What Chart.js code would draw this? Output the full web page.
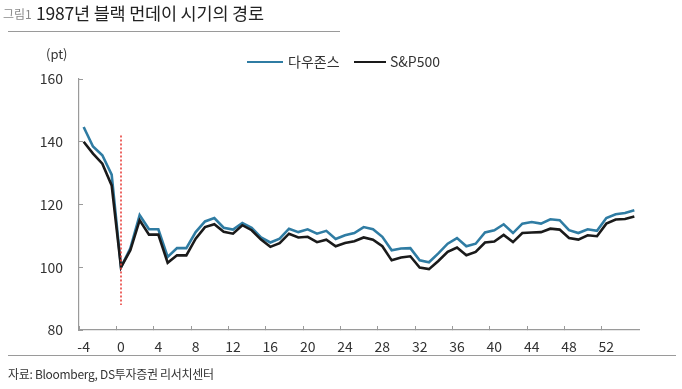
<!DOCTYPE html>
<html>
<head>
<meta charset="utf-8">
<script src="https://cdn.jsdelivr.net/npm/chart.js"></script>
<style>
  html, body { margin: 0; padding: 0; background: #fff; }
  body { width: 682px; height: 389px; position: relative; overflow: hidden;
         font-family: "Noto Sans CJK KR", "Noto Sans", sans-serif; }
  #wrap { position: absolute; left: 0; top: 0; width: 682px; height: 389px; }
  .abs { position: absolute; white-space: nowrap; }
  #fig { left: 3px; top: 5px; font-size: 12px; color: #8a8a8a; }
  #title { left: 36px; top: 0px; font-size: 17.5px; color: #222; letter-spacing: -0.2px; }
  #rule1 { left: 8px; top: 31px; width: 332px; height: 0; border-top: 1.5px solid #9a9a9a; }
  #rule2 { left: 8px; top: 355px; width: 668px; height: 0; border-top: 1.5px solid #9a9a9a; }
  #src { left: 8px; top: 365px; font-size: 12px; color: #333; letter-spacing: -0.3px; }
  #unit { left: 46px; top: 44px; font-size: 13px; color: #333; }
  .lg { top: 51px; font-size: 14px; color: #333; }
  .sw { position: absolute; height: 0; top: 61px; }
</style>
</head>
<body>
<div id="wrap"><canvas id="c" width="682" height="389"></canvas></div>
<div class="abs" id="fig">그림1</div>
<div class="abs" id="title">1987년 블랙 먼데이 시기의 경로</div>
<div class="abs" id="rule1"></div>
<div class="abs" id="unit">(pt)</div>
<div class="sw" style="left:247px;width:36px;border-top:2.5px solid #2f7ca3;"></div>
<div class="abs lg" style="left:288px;">다우존스</div>
<div class="sw" style="left:354px;width:32px;border-top:2.5px solid #1a1a1a;"></div>
<div class="abs lg" style="left:390px;">S&amp;P500</div>
<div class="abs" id="rule2"></div>
<div class="abs" id="src">자료: Bloomberg, DS투자증권 리서치센터</div>
<script>
// Days relative to Black Monday (1987-10-19)
const categories = ['-4','-3','-2','-1','0','1','2','3','4','5','6','7','8','9','10','11','12','13','14','15',
  '16','17','18','19','20','21','22','23','24','25','26','27','28','29','30','31','32','33','34','35',
  '36','37','38','39','40','41','42','43','44','45','46','47','48','49','50','51','52','53','54','55'];

const dowValues = [144.7, 138.5, 135.7, 129.5, 100.0, 106.0, 116.6, 112.1, 112.1, 103.3,
  106.1, 106.1, 111.2, 114.6, 115.7, 112.6, 112.0, 114.1, 112.6, 109.5,
  107.9, 109.1, 112.3, 111.2, 112.1, 110.7, 111.6, 109.0, 110.2, 110.9,
  112.8, 112.1, 109.7, 105.4, 106.0, 106.1, 102.2, 101.6, 104.4, 107.5,
  109.3, 106.7, 107.5, 111.1, 111.8, 113.7, 110.9, 113.9, 114.4, 113.9,
  115.3, 115.0, 111.8, 110.9, 112.1, 111.6, 115.7, 116.9, 117.3, 118.2];

const spValues = [140.0, 136.2, 133.0, 126.1, 100.0, 105.4, 115.0, 110.4, 110.4, 101.4,
  103.8, 103.8, 109.1, 112.8, 113.7, 111.3, 110.7, 113.4, 111.8, 108.8,
  106.5, 107.7, 110.7, 109.5, 109.7, 108.0, 108.8, 106.7, 107.7, 108.3,
  109.5, 108.8, 106.7, 102.2, 103.1, 103.5, 99.9, 99.4, 102.0, 104.9,
  106.3, 103.8, 104.9, 107.9, 108.2, 110.3, 108.0, 110.9, 111.1, 111.2,
  112.3, 112.0, 109.3, 108.8, 110.2, 109.9, 113.9, 115.2, 115.4, 116.2];

const seriesNames = ['다우존스', 'S&P500'];
const markerCategory = '0';
const markerRange = [142, 88];
const yTicks = [80, 100, 120, 140, 160];

const axisGray = '#9a9a9a';
const tickFont = { family: '"Noto Sans CJK KR", "Noto Sans", sans-serif', size: 14 };

new Chart(document.getElementById('c'), {
  type: 'line',
  data: {
    labels: categories,
    datasets: [
      { label: seriesNames[0], data: dowValues, borderColor: '#2f7ca3', borderWidth: 2.6,
        pointRadius: 0, tension: 0, order: 2 },
      { label: seriesNames[1], data: spValues, borderColor: '#1a1a1a', borderWidth: 2.6,
        pointRadius: 0, tension: 0, order: 1 },
      { label: 'event', data: markerRange.map(v => ({ x: markerCategory, y: v })),
        borderColor: '#e8413c', borderWidth: 1.6, borderDash: [2, 2], pointRadius: 0, order: 0 }
    ]
  },
  options: {
    responsive: false,
    animation: false,
    layout: { padding: { left: 0, right: 43, top: 79, bottom: 0 } },
    plugins: { legend: { display: false }, tooltip: { enabled: false } },
    scales: {
      x: {
        type: 'category',
        offset: true,
        grid: {
          offset: true, drawOnChartArea: false, drawTicks: true, tickLength: -4,
          color: ctx => (ctx.index % 4 === 0 ? axisGray : 'rgba(0,0,0,0)'), lineWidth: 1
        },
        border: { display: true, color: axisGray, width: 1.2 },
        ticks: {
          autoSkip: false, maxRotation: 0, minRotation: 0, padding: 12,
          color: '#333', font: tickFont,
          callback: function (v, i) { return i % 4 === 0 ? this.getLabelForValue(v) : ''; }
        },
        afterFit: s => { s.height = 59; }
      },
      y: {
        min: 80, max: 160,
        afterBuildTicks: s => { s.ticks = yTicks.map(v => ({ value: v })); },
        grid: { drawOnChartArea: false, drawTicks: true, tickLength: -4, color: axisGray },
        border: { display: true, color: axisGray, width: 1.2 },
        ticks: { color: '#333', font: tickFont, padding: 20 },
        afterFit: s => { s.width = 79; }
      }
    }
  }
});
</script>
</body>
</html>
